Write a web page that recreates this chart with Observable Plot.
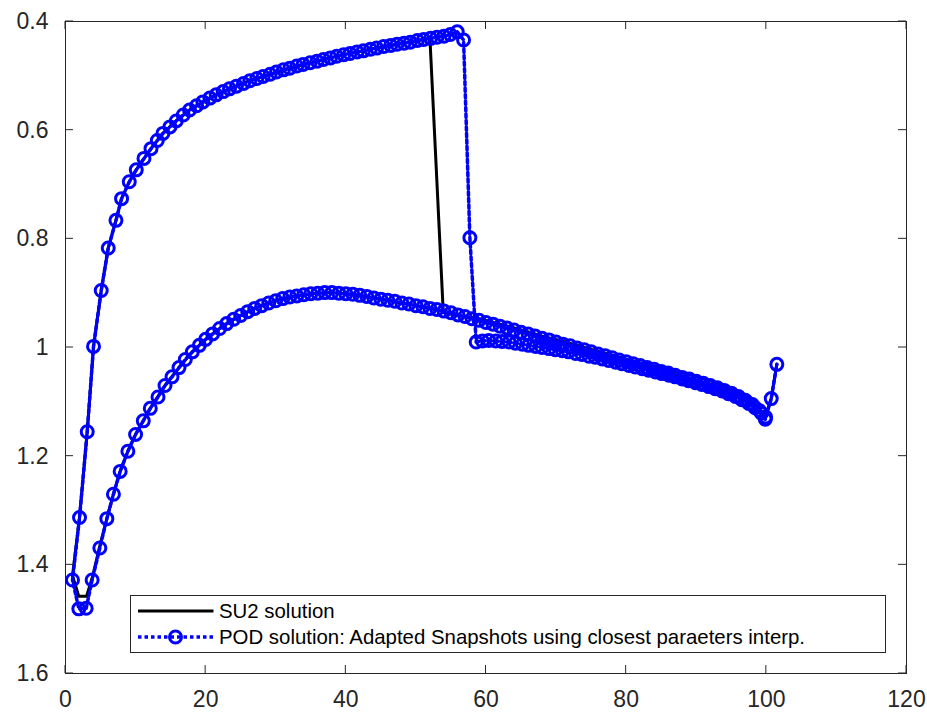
<!DOCTYPE html>
<html>
<head>
<meta charset="utf-8">
<script src="https://cdn.jsdelivr.net/npm/d3@7"></script>
<script src="https://cdn.jsdelivr.net/npm/@observablehq/plot@0.6"></script>
<style>
  html, body { margin: 0; padding: 0; background: #ffffff; }
  #chart { width: 927px; height: 713px; }
</style>
</head>
<body>
<div id="chart"></div>
<script>
// ---- data ----
const xTicks = [0, 20, 40, 60, 80, 100, 120];
const yTicks = [0.4, 0.6, 0.8, 1.0, 1.2, 1.4, 1.6];
const yTickLabels = ["0.4", "0.6", "0.8", "1", "1.2", "1.4", "1.6"];
const seriesNames = ["SU2 solution", "POD solution: Adapted Snapshots using closest paraeters interp."];

// POD solution, lower surface (trailing edge -> leading edge)
const podLowerX = [99.85, 99, 98, 97, 96, 95, 94, 93, 92, 91, 90, 89, 88, 87, 86, 85, 84, 83, 82, 81, 80, 79, 78, 77, 76, 75, 74, 73, 72, 71, 70, 69, 68, 67, 66, 65, 64, 63, 62, 61, 60, 59, 58, 57, 56, 55, 54, 53, 52, 51, 50, 49, 48, 47, 46, 45, 44, 43, 42, 41, 40, 39, 38, 37, 36, 35, 34, 33, 32, 31, 30, 29, 28, 27, 26, 25, 24, 23, 22, 21, 20, 19.1, 18.1, 17.1, 16.2, 15.2, 14.2, 13.2, 12.1, 11.1, 10.0, 8.9, 7.8, 6.84, 5.9, 4.9, 3.8, 2.95, 1.9];
const podLowerY = [1.132, 1.116, 1.105, 1.097, 1.090, 1.084, 1.079, 1.074, 1.070, 1.066, 1.062, 1.058, 1.055, 1.051, 1.047, 1.044, 1.040, 1.037, 1.033, 1.030, 1.026, 1.023, 1.019, 1.015, 1.012, 1.008, 1.004, 1.001, 0.997, 0.994, 0.990, 0.986, 0.983, 0.979, 0.975, 0.972, 0.968, 0.964, 0.961, 0.957, 0.954, 0.950, 0.947, 0.943, 0.940, 0.936, 0.933, 0.930, 0.928, 0.925, 0.923, 0.920, 0.918, 0.915, 0.913, 0.911, 0.909, 0.906, 0.904, 0.902, 0.901, 0.900, 0.899, 0.899, 0.900, 0.901, 0.903, 0.905, 0.907, 0.910, 0.914, 0.918, 0.923, 0.928, 0.934, 0.941, 0.948, 0.956, 0.965, 0.975, 0.985, 0.996, 1.008, 1.022, 1.037, 1.054, 1.070, 1.091, 1.112, 1.135, 1.160, 1.191, 1.228, 1.270, 1.315, 1.369, 1.428, 1.480, 1.481];
// POD solution, upper surface (leading edge -> trailing edge)
const podUpperX = [1.0, 2.0, 3.1, 4.0, 5.1, 6.1, 7.2, 8.0, 9.1, 10.1, 11.2, 12.2, 13.1, 13.9, 14.9, 15.8, 16.8, 17.7, 18.7, 19.6, 20.6, 21.5, 22.5, 23.4, 24.4, 25.4, 26.3, 27.3, 28.2, 29.2, 30.1, 31.1, 32.0, 33.0, 33.9, 34.9, 35.9, 36.8, 37.8, 38.7, 39.7, 40.6, 41.6, 42.5, 43.5, 44.4, 45.4, 46.4, 47.3, 48.3, 49.2, 50.2, 51.1, 52.1, 53.0, 54.0, 54.9, 55.9, 56.8, 57.7, 58.6, 59.5, 60.4, 61.4, 62.3, 63.3, 64.2, 65.2, 66.1, 67.1, 68.0, 69.0, 69.9, 70.9, 71.8, 72.8, 73.7, 74.7, 75.6, 76.6, 77.5, 78.5, 79.4, 80.4, 81.3, 82.3, 83.2, 84.2, 85.1, 86.1, 87.0, 88.0, 88.9, 89.9, 90.8, 91.8, 92.7, 93.7, 94.6, 95.6, 96.5, 97.5, 98.4, 99.3, 99.9, 100.7, 101.5];
const podUpperY = [1.428, 1.313, 1.155, 0.998, 0.895, 0.817, 0.766, 0.726, 0.695, 0.673, 0.652, 0.634, 0.619, 0.606, 0.594, 0.583, 0.572, 0.563, 0.555, 0.548, 0.541, 0.535, 0.529, 0.524, 0.519, 0.514, 0.509, 0.505, 0.501, 0.497, 0.493, 0.489, 0.486, 0.482, 0.479, 0.476, 0.473, 0.470, 0.467, 0.464, 0.461, 0.459, 0.456, 0.454, 0.451, 0.449, 0.446, 0.444, 0.442, 0.440, 0.438, 0.435, 0.433, 0.431, 0.429, 0.427, 0.424, 0.419, 0.434, 0.798, 0.990, 0.988, 0.987, 0.988, 0.989, 0.990, 0.992, 0.994, 0.996, 0.998, 1.000, 1.002, 1.004, 1.006, 1.008, 1.011, 1.013, 1.016, 1.018, 1.021, 1.024, 1.027, 1.030, 1.033, 1.036, 1.039, 1.042, 1.045, 1.048, 1.051, 1.054, 1.058, 1.061, 1.065, 1.068, 1.072, 1.076, 1.080, 1.085, 1.090, 1.096, 1.103, 1.111, 1.121, 1.128, 1.094, 1.031];

// SU2 solution, lower surface (trailing edge -> leading edge)
const su2LowerX = [99.85, 99, 97, 95, 92, 90, 85, 80, 76, 72, 68, 64, 60, 56, 52, 48, 44, 40, 38, 36, 33, 30, 27, 24, 22, 20, 18.1, 16.2, 14.2, 12.1, 10.0, 8.9, 7.8, 6.84, 5.9, 4.9, 3.9, 3.0, 1.9];
const su2LowerY = [1.132, 1.116, 1.097, 1.084, 1.070, 1.062, 1.044, 1.026, 1.012, 0.997, 0.983, 0.968, 0.954, 0.940, 0.928, 0.918, 0.909, 0.901, 0.899, 0.900, 0.905, 0.914, 0.928, 0.948, 0.965, 0.985, 1.008, 1.037, 1.070, 1.112, 1.160, 1.191, 1.228, 1.270, 1.315, 1.365, 1.420, 1.458, 1.458];
// SU2 solution, upper surface (leading edge -> trailing edge)
const su2UpperX = [1.0, 2.0, 3.1, 4.0, 5.1, 6.1, 7.2, 8.0, 9.1, 10.1, 12.2, 13.9, 15.8, 17.7, 20.6, 23.4, 26.3, 29.2, 32.0, 35.9, 39.7, 43.5, 47.3, 50.2, 52.0, 53.9, 56, 59, 62, 65.7, 68, 70.8, 74, 78, 82, 86, 90, 94, 97, 99, 99.9, 100.7, 101.5];
const su2UpperY = [1.420, 1.313, 1.155, 0.998, 0.895, 0.817, 0.766, 0.726, 0.695, 0.673, 0.634, 0.606, 0.583, 0.563, 0.541, 0.524, 0.509, 0.497, 0.486, 0.473, 0.461, 0.451, 0.442, 0.435, 0.431, 0.935, 0.941, 0.947, 0.957, 0.970, 0.979, 0.988, 1.000, 1.014, 1.029, 1.044, 1.060, 1.077, 1.094, 1.112, 1.128, 1.094, 1.031];

(function () {
  // ---- build tables ----
  const toRows = (xs, ys) => xs.map((x, i) => ({x, y: ys[i]}));
  const pod = [...toRows(podLowerX, podLowerY), ...toRows(podUpperX, podUpperY)];
  const su2 = [...toRows(su2LowerX, su2LowerY), ...toRows(su2UpperX, su2UpperY)];

  const axisColor = "#262626";
  const blue = "#0000ff";
  const fontFam = "'Liberation Sans', Arial, Helvetica, sans-serif";

  const plot = Plot.plot({
    width: 927,
    height: 713,
    marginLeft: 65,
    marginRight: 21,
    marginTop: 21,
    marginBottom: 40,
    style: {fontFamily: fontFam, fontSize: "23px", color: axisColor, background: "#ffffff"},
    x: {domain: [0, 120]},
    y: {domain: [0.4, 1.6], reverse: true},
    marks: [
      Plot.frame({stroke: axisColor, strokeWidth: 1}),
      Plot.axisX({ticks: xTicks, tickSize: 0, tickPadding: 17, label: null, tickFormat: d => String(d)}),
      Plot.axisY({ticks: yTicks, tickSize: 0, tickPadding: 17, label: null, tickFormat: d => yTickLabels[yTicks.indexOf(d)]}),
      Plot.line(su2, {x: "x", y: "y", stroke: "#000000", strokeWidth: 3}),
      Plot.line(pod, {x: "x", y: "y", stroke: blue, strokeWidth: 3.5, strokeDasharray: "3.5,3"}),
      Plot.dot(pod, {x: "x", y: "y", r: 6, stroke: blue, strokeWidth: 3, fill: "none"})
    ]
  });

  document.getElementById("chart").appendChild(plot);

  // ---- inward ticks on all four sides (MATLAB box style) ----
  const sx = plot.scale("x"), sy = plot.scale("y");
  const svg = d3.select(plot);
  const pLeft = sx.apply(0), pRight = sx.apply(120);
  const pTop = sy.apply(0.4), pBottom = sy.apply(1.6);
  const tickLen = 8;
  const gt = svg.append("g").attr("stroke", axisColor).attr("stroke-width", 1);
  xTicks.forEach(t => {
    const px = sx.apply(t);
    gt.append("line").attr("x1", px).attr("x2", px).attr("y1", pBottom).attr("y2", pBottom - tickLen);
    gt.append("line").attr("x1", px).attr("x2", px).attr("y1", pTop).attr("y2", pTop + tickLen);
  });
  yTicks.forEach(t => {
    const py = sy.apply(t);
    gt.append("line").attr("x1", pLeft).attr("x2", pLeft + tickLen).attr("y1", py).attr("y2", py);
    gt.append("line").attr("x1", pRight).attr("x2", pRight - tickLen).attr("y1", py).attr("y2", py);
  });

  // ---- legend (inside the axes, lower area) ----
  const lg = svg.append("g")
    .attr("font-family", fontFam).attr("font-size", 20.4).attr("fill", "#000")
    .attr("text-anchor", "start");
  const lx = 130.5, ly = 595.5, lw = 755, lh = 57;
  lg.append("rect").attr("x", lx).attr("y", ly).attr("width", lw).attr("height", lh)
    .attr("fill", "#ffffff").attr("stroke", axisColor).attr("stroke-width", 1);
  const row1 = ly + 15.5, row2 = ly + 41.5;
  lg.append("line").attr("x1", lx + 7.5).attr("x2", lx + 83).attr("y1", row1).attr("y2", row1)
    .attr("stroke", "#000").attr("stroke-width", 3);
  lg.append("line").attr("x1", lx + 7.5).attr("x2", lx + 83).attr("y1", row2).attr("y2", row2)
    .attr("stroke", blue).attr("stroke-width", 3.5).attr("stroke-dasharray", "3.5,3");
  lg.append("circle").attr("cx", lx + 45).attr("cy", row2).attr("r", 6)
    .attr("fill", "none").attr("stroke", blue).attr("stroke-width", 3);
  lg.append("text").attr("x", lx + 88.5).attr("y", row1).attr("dy", "0.35em")
    .attr("text-anchor", "start").text(seriesNames[0]);
  lg.append("text").attr("x", lx + 88.5).attr("y", row2).attr("dy", "0.35em")
    .attr("text-anchor", "start").text(seriesNames[1]);
})();
</script>
</body>
</html>
